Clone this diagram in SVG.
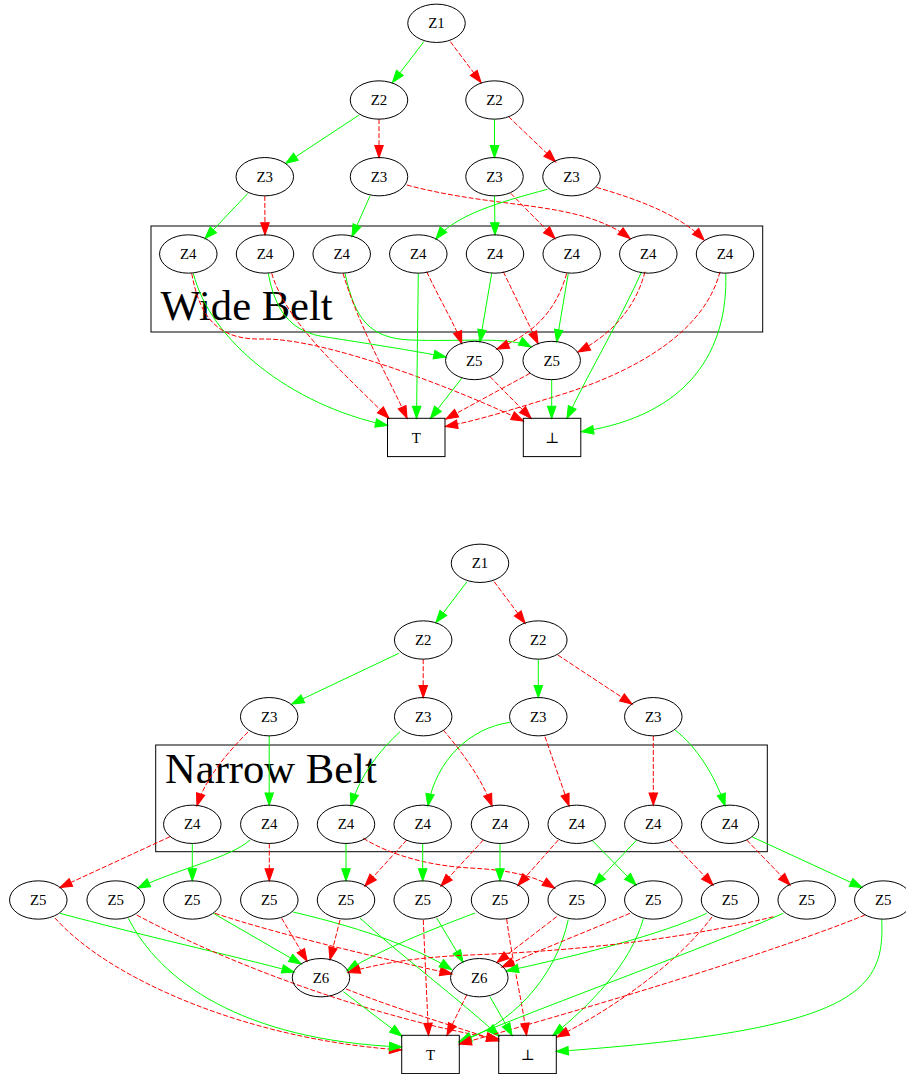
<svg xmlns="http://www.w3.org/2000/svg" width="906" height="1074" viewBox="0 0 906 1074">
<defs>
<style>
.g{fill:none;stroke:#00ff00;stroke-width:1;marker-end:url(#ag)}
.r{fill:none;stroke:#ff0000;stroke-width:1;stroke-dasharray:5,2;marker-end:url(#ar)}
.n ellipse,.n rect{fill:none;stroke:#000;stroke-width:1}
.n text{font-family:"Liberation Serif","DejaVu Serif",serif;font-size:14.9px;text-anchor:middle;fill:#000}
.cl rect{fill:none;stroke:#000;stroke-width:1}
.cl text{font-family:"Liberation Serif","DejaVu Serif",serif;font-size:42.6px;fill:#000}
</style>
<marker id="ag" markerUnits="userSpaceOnUse" markerWidth="12" markerHeight="9" viewBox="0 0 10.6 7.4" refX="10.6" refY="3.7" orient="auto" style="overflow:visible"><path d="M0,0 L10.6,3.7 L0,7.4 z" fill="#00ff00" stroke="#00ff00"/></marker>
<marker id="ar" markerUnits="userSpaceOnUse" markerWidth="12" markerHeight="9" viewBox="0 0 10.6 7.4" refX="10.6" refY="3.7" orient="auto" style="overflow:visible"><path d="M0,0 L10.6,3.7 L0,7.4 z" fill="#ff0000" stroke="#ff0000"/></marker>
</defs>
<rect x="0" y="0" width="906" height="1074" fill="#fff"/>
<g id="clusters" class="cl">
<g id="wide_belt"><rect x="151" y="226" width="611.7" height="106"/><text x="160.5" y="319.5">Wide Belt</text></g>
<g id="narrow_belt"><rect x="155.7" y="745" width="611.6" height="106.7"/><text x="165" y="783.3">Narrow Belt</text></g>
</g>
<g id="edges">
<path class="g" d="M424,41.5 L392.5,82.5"/>
<path class="r" d="M450.4,41.7 L481,82.5"/>
<path class="g" d="M359.1,115 L285.8,163.3"/>
<path class="r" d="M379,119.2 L379,157.5"/>
<path class="g" d="M494.5,119.2 L494.5,157.5"/>
<path class="r" d="M508.6,116.7 L555.5,161.7"/>
<path class="g" d="M248,193.3 L205,238.5"/>
<path class="r" d="M264.8,195.9 L265,234.8"/>
<path class="g" d="M370,196 L352,236.5"/>
<path class="r" d="M406.8,185 C500,210 580,200 630,238.5"/>
<path class="g" d="M494.5,195.9 L495,234.8"/>
<path class="r" d="M510.7,193.3 L555,238.4"/>
<path class="g" d="M547.3,189.3 C500,202 455,215 436,239"/>
<path class="r" d="M596.2,187.3 C640,200 680,215 704,240"/>
<path class="g" d="M193.3,273.3 C210,340 290,405 387.5,425.5"/>
<path class="r" d="M191.7,273.3 C200,320 220,340 262,339 C330,338 470,395 523.3,421"/>
<path class="g" d="M268.3,273.3 C275,310 290,330 320,336 C370,344 410,350 445.8,357"/>
<path class="r" d="M271.7,273.3 C285,320 340,370 389,418.3"/>
<path class="g" d="M345,273.3 C355,320 370,338 410,340 C460,342 510,336 531,347"/>
<path class="r" d="M343,273.3 C360,330 390,380 407,418.3"/>
<path class="g" d="M418.3,273.2 L416.5,418.3"/>
<path class="r" d="M426.7,271.7 C440,300 455,325 461.7,343.3"/>
<path class="g" d="M491.7,273.3 L480,341.7"/>
<path class="r" d="M503.3,271.7 L538,343.5"/>
<path class="r" d="M566.7,273.3 C555,315 530,335 497,349"/>
<path class="g" d="M568.3,273.3 L556.7,341.7"/>
<path class="g" d="M641.7,271.7 C620,320 590,370 567,418.3"/>
<path class="r" d="M645,271.7 C635,310 610,335 578,352"/>
<path class="r" d="M720,271.7 C705,330 640,370 560,395 C510,410 480,420 445.5,426.5"/>
<path class="g" d="M725.8,273.3 C728,350 690,415 581.5,431.7"/>
<path class="g" d="M461.7,378.3 L430.5,418.3"/>
<path class="r" d="M490,376.7 L531,418.3"/>
<path class="g" d="M551.7,379.7 L551.7,418.3"/>
<path class="r" d="M530,373.3 L446,419"/>
<path class="g" d="M467,581.7 L436,622.5"/>
<path class="r" d="M494.2,581.7 L525,623"/>
<path class="g" d="M398.8,653.3 L291.9,704"/>
<path class="r" d="M423.2,659.2 L423.2,697.5"/>
<path class="g" d="M538.3,659.2 L538.3,697.5"/>
<path class="r" d="M557.8,655 L632,704"/>
<path class="r" d="M248,732 C225,755 205,780 197,805.5"/>
<path class="g" d="M269.2,735.9 L269.2,805.1"/>
<path class="g" d="M400,731.7 C380,750 360,775 351,805.8"/>
<path class="r" d="M443.3,730 C460,750 480,775 492,806"/>
<path class="g" d="M510,722.3 C470,728 436,760 428,805.9"/>
<path class="r" d="M545,736.7 L569,806"/>
<path class="r" d="M653.3,735.9 L653.3,805.1"/>
<path class="g" d="M675,730 C695,745 715,775 725,805.8"/>
<path class="r" d="M170,836.7 L60,887.5"/>
<path class="g" d="M192.3,843.5 L192.3,880.8"/>
<path class="g" d="M250,840 C230,858 180,868 138,888"/>
<path class="r" d="M269.3,843.5 L269.3,880.8"/>
<path class="g" d="M346,843.5 L346,880.8"/>
<path class="r" d="M363.3,838.3 C390,855 430,866 470,868 C510,870 535,876 554.5,888"/>
<path class="r" d="M406.7,840 L365,886"/>
<path class="g" d="M422.7,843.5 L422.7,880.8"/>
<path class="r" d="M483.3,840 L441,886"/>
<path class="g" d="M500,843.5 L500,880.8"/>
<path class="r" d="M558.3,840 L518,885.5"/>
<path class="g" d="M591.7,840 L636,885"/>
<path class="g" d="M636.7,840 L594,885"/>
<path class="r" d="M670,840 L713,885"/>
<path class="r" d="M746.7,840 L790,885"/>
<path class="g" d="M751.7,836.7 L862,887.5"/>
<path class="g" d="M60,913.3 C140,935 230,955 294,972"/>
<path class="r" d="M55,918 C110,980 250,1040 401.5,1050"/>
<path class="g" d="M128.3,918.3 C160,980 240,1040 401.5,1047"/>
<path class="r" d="M136.7,915 C230,965 380,1020 498.7,1039"/>
<path class="g" d="M213.3,913.3 L301,964"/>
<path class="r" d="M215,913.3 C280,935 380,958 452,974"/>
<path class="r" d="M281.7,918.3 L307,961"/>
<path class="g" d="M293,912 C370,930 420,950 451.5,969.5"/>
<path class="r" d="M340,920 L330,959.5"/>
<path class="g" d="M360,918 C400,955 460,1000 499,1036"/>
<path class="r" d="M423.3,920 C425,960 427,1000 428.5,1035.3"/>
<path class="g" d="M436.7,918 L463,962"/>
<path class="g" d="M475,913 C430,930 380,950 347,970.5"/>
<path class="r" d="M506.7,919 C512,960 522,1000 526.5,1035.3"/>
<path class="g" d="M568.3,919.5 C555,980 510,1025 459.3,1042"/>
<path class="r" d="M556.7,916.7 L497,962.5"/>
<path class="r" d="M630,913.3 C590,930 540,950 502,967"/>
<path class="g" d="M643.3,919 C630,965 590,1005 553,1035.3"/>
<path class="g" d="M706.7,913.3 C660,935 580,955 506.5,971"/>
<path class="r" d="M712,917 C680,960 620,1005 557,1037"/>
<path class="g" d="M783.3,913.3 C700,950 560,1000 459.3,1041.5"/>
<path class="r" d="M773.3,916.7 C700,935 600,950 470,955 C420,957 380,963 348,972.5"/>
<path class="g" d="M881.7,919.2 C885,990 860,1030 556.3,1051.5"/>
<path class="r" d="M865,915 C780,950 600,1005 459.3,1044"/>
<path class="g" d="M343.3,991.7 L401.7,1036"/>
<path class="r" d="M346,989 C400,1010 450,1025 498.7,1041"/>
<path class="g" d="M490,996.7 L512,1035.3"/>
<path class="r" d="M466.7,995 L447,1035.3"/>
</g>
<g id="top_Z1" class="n"><ellipse cx="436.5" cy="23.3" rx="28.75" ry="19.17"/><text x="436.5" y="28.3">Z1</text></g>
<g id="top_Z2a" class="n"><ellipse cx="379" cy="100" rx="28.75" ry="19.17"/><text x="379" y="105">Z2</text></g>
<g id="top_Z2b" class="n"><ellipse cx="494.5" cy="100" rx="28.75" ry="19.17"/><text x="494.5" y="105">Z2</text></g>
<g id="top_Z3a" class="n"><ellipse cx="264.8" cy="176.7" rx="28.75" ry="19.17"/><text x="264.8" y="181.7">Z3</text></g>
<g id="top_Z3b" class="n"><ellipse cx="379" cy="176.7" rx="28.75" ry="19.17"/><text x="379" y="181.7">Z3</text></g>
<g id="top_Z3c" class="n"><ellipse cx="494.5" cy="176.7" rx="28.75" ry="19.17"/><text x="494.5" y="181.7">Z3</text></g>
<g id="top_Z3d" class="n"><ellipse cx="571.5" cy="176.7" rx="28.75" ry="19.17"/><text x="571.5" y="181.7">Z3</text></g>
<g id="top_Z4_1" class="n"><ellipse cx="188.3" cy="254" rx="28.75" ry="19.17"/><text x="188.3" y="259">Z4</text></g>
<g id="top_Z4_2" class="n"><ellipse cx="265" cy="254" rx="28.75" ry="19.17"/><text x="265" y="259">Z4</text></g>
<g id="top_Z4_3" class="n"><ellipse cx="341.7" cy="254" rx="28.75" ry="19.17"/><text x="341.7" y="259">Z4</text></g>
<g id="top_Z4_4" class="n"><ellipse cx="418.3" cy="254" rx="28.75" ry="19.17"/><text x="418.3" y="259">Z4</text></g>
<g id="top_Z4_5" class="n"><ellipse cx="495" cy="254" rx="28.75" ry="19.17"/><text x="495" y="259">Z4</text></g>
<g id="top_Z4_6" class="n"><ellipse cx="571.7" cy="254" rx="28.75" ry="19.17"/><text x="571.7" y="259">Z4</text></g>
<g id="top_Z4_7" class="n"><ellipse cx="648.3" cy="254" rx="28.75" ry="19.17"/><text x="648.3" y="259">Z4</text></g>
<g id="top_Z4_8" class="n"><ellipse cx="725" cy="254" rx="28.75" ry="19.17"/><text x="725" y="259">Z4</text></g>
<g id="top_Z5_1" class="n"><ellipse cx="474.3" cy="360.5" rx="28.75" ry="19.17"/><text x="474.3" y="365.5">Z5</text></g>
<g id="top_Z5_2" class="n"><ellipse cx="551.7" cy="360.5" rx="28.75" ry="19.17"/><text x="551.7" y="365.5">Z5</text></g>
<g id="top_T" class="n"><rect x="387.5" y="418.3" width="57.5" height="38.3"/><text x="416.2" y="442.5">T</text></g>
<g id="top_F" class="n"><rect x="523.3" y="418.3" width="57.5" height="38.3"/><text x="552" y="442.5">⊥</text></g>
<g id="bot_Z1" class="n"><ellipse cx="480" cy="563.3" rx="28.75" ry="19.17"/><text x="480" y="568.3">Z1</text></g>
<g id="bot_Z2a" class="n"><ellipse cx="423.2" cy="640" rx="28.75" ry="19.17"/><text x="423.2" y="645">Z2</text></g>
<g id="bot_Z2b" class="n"><ellipse cx="538.3" cy="640" rx="28.75" ry="19.17"/><text x="538.3" y="645">Z2</text></g>
<g id="bot_Z3a" class="n"><ellipse cx="269.2" cy="716.7" rx="28.75" ry="19.17"/><text x="269.2" y="721.7">Z3</text></g>
<g id="bot_Z3b" class="n"><ellipse cx="423.2" cy="716.7" rx="28.75" ry="19.17"/><text x="423.2" y="721.7">Z3</text></g>
<g id="bot_Z3c" class="n"><ellipse cx="538.3" cy="716.7" rx="28.75" ry="19.17"/><text x="538.3" y="721.7">Z3</text></g>
<g id="bot_Z3d" class="n"><ellipse cx="653.3" cy="716.7" rx="28.75" ry="19.17"/><text x="653.3" y="721.7">Z3</text></g>
<g id="bot_Z4_1" class="n"><ellipse cx="192.3" cy="824.3" rx="28.75" ry="19.17"/><text x="192.3" y="829.3">Z4</text></g>
<g id="bot_Z4_2" class="n"><ellipse cx="269.3" cy="824.3" rx="28.75" ry="19.17"/><text x="269.3" y="829.3">Z4</text></g>
<g id="bot_Z4_3" class="n"><ellipse cx="346" cy="824.3" rx="28.75" ry="19.17"/><text x="346" y="829.3">Z4</text></g>
<g id="bot_Z4_4" class="n"><ellipse cx="422.7" cy="824.3" rx="28.75" ry="19.17"/><text x="422.7" y="829.3">Z4</text></g>
<g id="bot_Z4_5" class="n"><ellipse cx="500" cy="824.3" rx="28.75" ry="19.17"/><text x="500" y="829.3">Z4</text></g>
<g id="bot_Z4_6" class="n"><ellipse cx="576.7" cy="824.3" rx="28.75" ry="19.17"/><text x="576.7" y="829.3">Z4</text></g>
<g id="bot_Z4_7" class="n"><ellipse cx="653.3" cy="824.3" rx="28.75" ry="19.17"/><text x="653.3" y="829.3">Z4</text></g>
<g id="bot_Z4_8" class="n"><ellipse cx="730" cy="824.3" rx="28.75" ry="19.17"/><text x="730" y="829.3">Z4</text></g>
<g id="bot_Z5_1" class="n"><ellipse cx="38.3" cy="900" rx="28.75" ry="19.17"/><text x="38.3" y="905">Z5</text></g>
<g id="bot_Z5_2" class="n"><ellipse cx="115.7" cy="900" rx="28.75" ry="19.17"/><text x="115.7" y="905">Z5</text></g>
<g id="bot_Z5_3" class="n"><ellipse cx="192.3" cy="900" rx="28.75" ry="19.17"/><text x="192.3" y="905">Z5</text></g>
<g id="bot_Z5_4" class="n"><ellipse cx="269.3" cy="900" rx="28.75" ry="19.17"/><text x="269.3" y="905">Z5</text></g>
<g id="bot_Z5_5" class="n"><ellipse cx="346" cy="900" rx="28.75" ry="19.17"/><text x="346" y="905">Z5</text></g>
<g id="bot_Z5_6" class="n"><ellipse cx="422.7" cy="900" rx="28.75" ry="19.17"/><text x="422.7" y="905">Z5</text></g>
<g id="bot_Z5_7" class="n"><ellipse cx="500" cy="900" rx="28.75" ry="19.17"/><text x="500" y="905">Z5</text></g>
<g id="bot_Z5_8" class="n"><ellipse cx="576.7" cy="900" rx="28.75" ry="19.17"/><text x="576.7" y="905">Z5</text></g>
<g id="bot_Z5_9" class="n"><ellipse cx="653.3" cy="900" rx="28.75" ry="19.17"/><text x="653.3" y="905">Z5</text></g>
<g id="bot_Z5_10" class="n"><ellipse cx="730" cy="900" rx="28.75" ry="19.17"/><text x="730" y="905">Z5</text></g>
<g id="bot_Z5_11" class="n"><ellipse cx="806.7" cy="900" rx="28.75" ry="19.17"/><text x="806.7" y="905">Z5</text></g>
<g id="bot_Z5_12" class="n"><ellipse cx="883.3" cy="900" rx="28.75" ry="19.17"/><text x="883.3" y="905">Z5</text></g>
<g id="bot_Z6_1" class="n"><ellipse cx="321" cy="977.7" rx="28.75" ry="19.17"/><text x="321" y="982.7">Z6</text></g>
<g id="bot_Z6_2" class="n"><ellipse cx="479.3" cy="977.7" rx="28.75" ry="19.17"/><text x="479.3" y="982.7">Z6</text></g>
<g id="bot_T" class="n"><rect x="401.7" y="1035.3" width="57.6" height="38.3"/><text x="430.5" y="1059.5">T</text></g>
<g id="bot_F" class="n"><rect x="498.7" y="1035.3" width="57.6" height="38.3"/><text x="527.5" y="1059.5">⊥</text></g>
</svg>
